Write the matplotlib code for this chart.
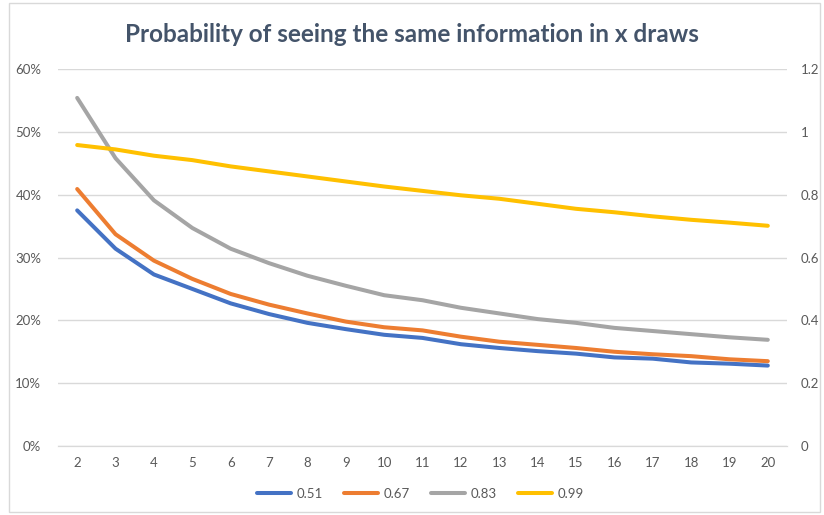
import matplotlib.pyplot as plt
from matplotlib.patches import Rectangle
from matplotlib.ticker import FuncFormatter, FixedLocator, NullLocator

plt.rcParams["font.family"] = ["Lato", "DejaVu Sans"]

draws = list(range(2, 21))
# left axis (fraction)
p051 = [0.375, 0.314, 0.273, 0.250, 0.227, 0.210, 0.196, 0.186, 0.177, 0.172,
        0.162, 0.156, 0.151, 0.147, 0.141, 0.139, 0.133, 0.131, 0.128]
p067 = [0.409, 0.337, 0.295, 0.266, 0.242, 0.225, 0.211, 0.198, 0.189, 0.184,
        0.174, 0.166, 0.161, 0.156, 0.150, 0.146, 0.143, 0.138, 0.135]
p083 = [0.554, 0.458, 0.391, 0.347, 0.314, 0.291, 0.271, 0.255, 0.240, 0.232,
        0.220, 0.211, 0.202, 0.196, 0.188, 0.183, 0.178, 0.173, 0.169]
# right axis
p099 = [0.958, 0.944, 0.924, 0.910, 0.890, 0.874, 0.858, 0.842, 0.826, 0.812,
        0.798, 0.787, 0.771, 0.755, 0.744, 0.731, 0.720, 0.711, 0.701]
series_names = ["0.51", "0.67", "0.83", "0.99"]
colors = ["#4472C4", "#ED7D31", "#A5A5A5", "#FFC000"]

txt = "#595959"
grid = "#D9D9D9"

fig = plt.figure(figsize=(8.24, 5.15), dpi=100)
fig.patches.append(Rectangle((9 / 824, 3 / 515), 811 / 824, 509 / 515,
                             transform=fig.transFigure, fill=False,
                             edgecolor=grid, linewidth=1))
ax = fig.add_axes([58 / 824, 1 - 446 / 515, 729 / 824, 377 / 515])
ax2 = ax.twinx()

lines = []
for vals, name, c in zip([p051, p067, p083], series_names[:3], colors[:3]):
    ln, = ax.plot(draws, vals, color=c, lw=2.9, solid_capstyle="round",
                  solid_joinstyle="round", label=name)
    lines.append(ln)
ln, = ax2.plot(draws, p099, color=colors[3], lw=2.9, solid_capstyle="round",
               solid_joinstyle="round", label=series_names[3])
lines.append(ln)

ax.set_xlim(1.5, 20.5)
ax.set_ylim(0, 0.6)
ax2.set_ylim(0, 1.2)
ax.set_yticks([i / 10 for i in range(7)])
ax2.set_yticks([i / 5 for i in range(7)])
ax.yaxis.set_major_formatter(FuncFormatter(lambda v, p: f"{v * 100:.0f}%"))
ax2.yaxis.set_major_formatter(FuncFormatter(lambda v, p: f"{v:g}"))
ax.set_xticks(draws)
ax.xaxis.set_minor_locator(FixedLocator([d + 0.5 for d in range(1, 21)]))
ax.tick_params(axis="x", which="major", length=0, pad=8, labelsize=9.5, colors=txt)
ax.tick_params(axis="x", which="minor", length=5, color=grid, width=1)
ax.tick_params(axis="y", length=0, pad=12, labelsize=9.5, colors=txt)
ax2.tick_params(axis="y", length=0, pad=10, labelsize=9.5, colors=txt)
ax2.xaxis.set_minor_locator(NullLocator())

ax.grid(axis="y", color=grid, lw=1)
ax.set_axisbelow(True)
for a in (ax, ax2):
    for s in ("top", "left", "right"):
        a.spines[s].set_visible(False)
    a.spines["bottom"].set_color(grid)

fig.text(0.5, 1 - 35 / 515, "Probability of seeing the same information in x draws",
         ha="center", va="center", fontsize=17.5, fontweight="bold", color="#44546A")

fig.legend(handles=lines, loc="center", bbox_to_anchor=(0.51, 1 - 494 / 515),
           ncol=4, frameon=False, fontsize=9.5, labelcolor=txt,
           handlelength=2.6, columnspacing=1.6, handletextpad=0.4)

fig.savefig("out.png", dpi=100)
